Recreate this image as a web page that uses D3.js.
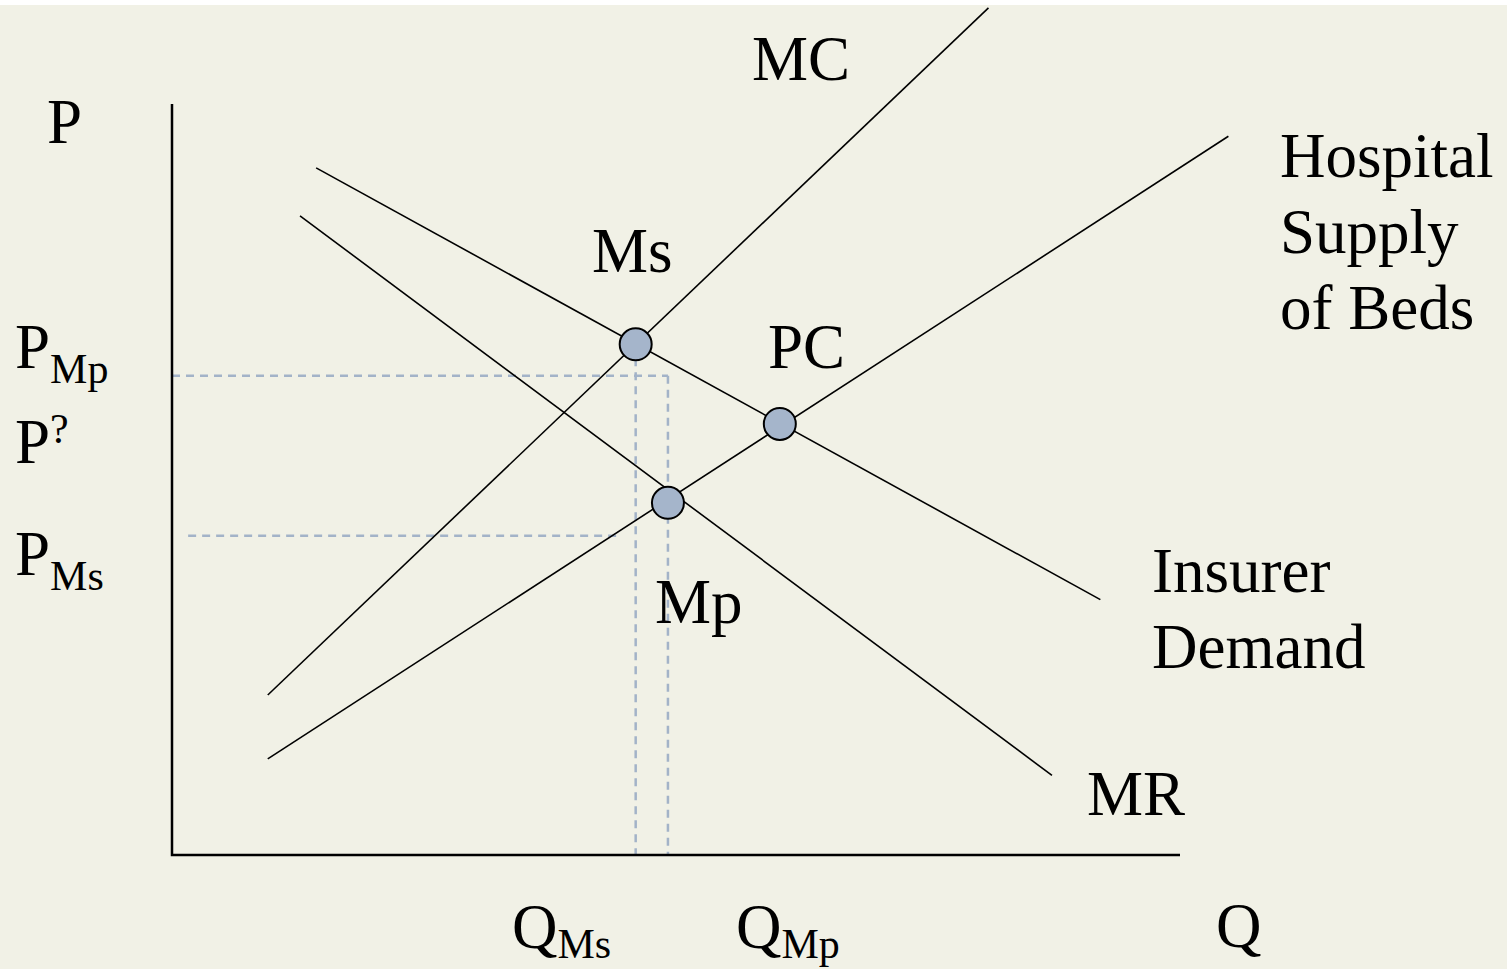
<!DOCTYPE html>
<html>
<head>
<meta charset="utf-8">
<script src="https://cdn.jsdelivr.net/npm/d3@7"></script>
<style>
  html, body { margin: 0; padding: 0; background: #ffffff; }
  svg { display: block; }
  text { font-family: "Liberation Serif", "Times New Roman", serif; fill: #000; }
</style>
</head>
<body>
<div id="chart"></div>
<script>
/* Hospital beds: monopoly / monopsony diagram */

// curves, in quantity / price units (0-100 on both axes)
const supply = [[9.5, 12.8], [104.8, 95.7]];
const mc = [[9.5, 21.3], [81.0, 112.8]];
const demand = [[14.3, 91.5], [92.1, 34.0]];
const mr = [[12.7, 85.1], [87.3, 10.6]];

// equilibrium points
const pointNames = ["Ms", "PC", "Mp"];
const pointQ = [46.0, 60.3, 49.2];
const pointP = [68.0, 57.4, 46.9];

// guide levels
const qMs = 46.0, qMp = 49.2;
const pMp = 63.8, pMs = 42.5;

const width = 1507, height = 969;

const x = d3.scaleLinear().domain([0, 100]).range([172, 1180]);
const y = d3.scaleLinear().domain([0, 100]).range([855, 104]);

const svg = d3.select("#chart")
  .append("svg")
  .attr("width", width)
  .attr("height", height);

svg.append("rect")
  .attr("x", 0).attr("y", 5)
  .attr("width", width).attr("height", height - 5)
  .attr("fill", "#f1f1e6");

// dashed guides
const guides = [
  [[0, pMp], [qMp, pMp]],
  [[qMp, pMp], [qMp, 0]],
  [[qMs, pointP[0]], [qMs, 0]],
  [[1.6, pMs], [44.5, pMs]]
];
const line = d3.line().x(d => x(d[0])).y(d => y(d[1]));

svg.append("g")
  .attr("fill", "none")
  .attr("stroke", "#a3b3c8")
  .attr("stroke-width", 2.5)
  .attr("stroke-dasharray", "8,6")
  .selectAll("path")
  .data(guides)
  .join("path")
  .attr("d", line);

// axes
svg.append("path")
  .attr("d", line([[0, 100], [0, 0], [100, 0]]))
  .attr("fill", "none")
  .attr("stroke", "#000")
  .attr("stroke-width", 2.5);

// curves
svg.append("g")
  .attr("fill", "none")
  .attr("stroke", "#000")
  .attr("stroke-width", 1.6)
  .selectAll("path")
  .data([supply, mc, demand, mr])
  .join("path")
  .attr("d", line);

// points
svg.append("g")
  .selectAll("circle")
  .data(pointNames)
  .join("circle")
  .attr("cx", (d, i) => x(pointQ[i]))
  .attr("cy", (d, i) => y(pointP[i]))
  .attr("r", 16)
  .attr("fill", "#a5b5cb")
  .attr("stroke", "#000")
  .attr("stroke-width", 2);

// labels
const labels = [
  { t: "MC", x: 752, y: 80 },
  { t: "Ms", x: 592, y: 272 },
  { t: "PC", x: 768, y: 368 },
  { t: "Mp", x: 655, y: 623 },
  { t: "MR", x: 1087, y: 815 },
  { t: "P", x: 47, y: 143 },
  { t: "Q", x: 1216, y: 947 },
  { t: "Hospital", x: 1280, y: 177 },
  { t: "Supply", x: 1280, y: 253 },
  { t: "of Beds", x: 1280, y: 329 },
  { t: "Insurer", x: 1152, y: 592 },
  { t: "Demand", x: 1152, y: 668 }
];

svg.append("g")
  .attr("font-size", 63)
  .selectAll("text")
  .data(labels)
  .join("text")
  .attr("x", d => d.x)
  .attr("y", d => d.y)
  .text(d => d.t);

// labels with sub / superscripts
const subLabels = [
  { main: "P", sub: "Mp", x: 15, y: 368, dy: 15 },
  { main: "P", sub: "?", x: 15, y: 463, dy: -20 },
  { main: "P", sub: "Ms", x: 15, y: 575, dy: 15 },
  { main: "Q", sub: "Ms", x: 512, y: 948, dy: 10 },
  { main: "Q", sub: "Mp", x: 736, y: 948, dy: 10 }
];

const sl = svg.append("g")
  .selectAll("text")
  .data(subLabels)
  .join("text")
  .attr("x", d => d.x)
  .attr("y", d => d.y)
  .attr("font-size", 63);

sl.append("tspan").text(d => d.main);
sl.append("tspan")
  .attr("font-size", 42)
  .attr("dy", d => d.dy)
  .text(d => d.sub);
</script>
</body>
</html>
